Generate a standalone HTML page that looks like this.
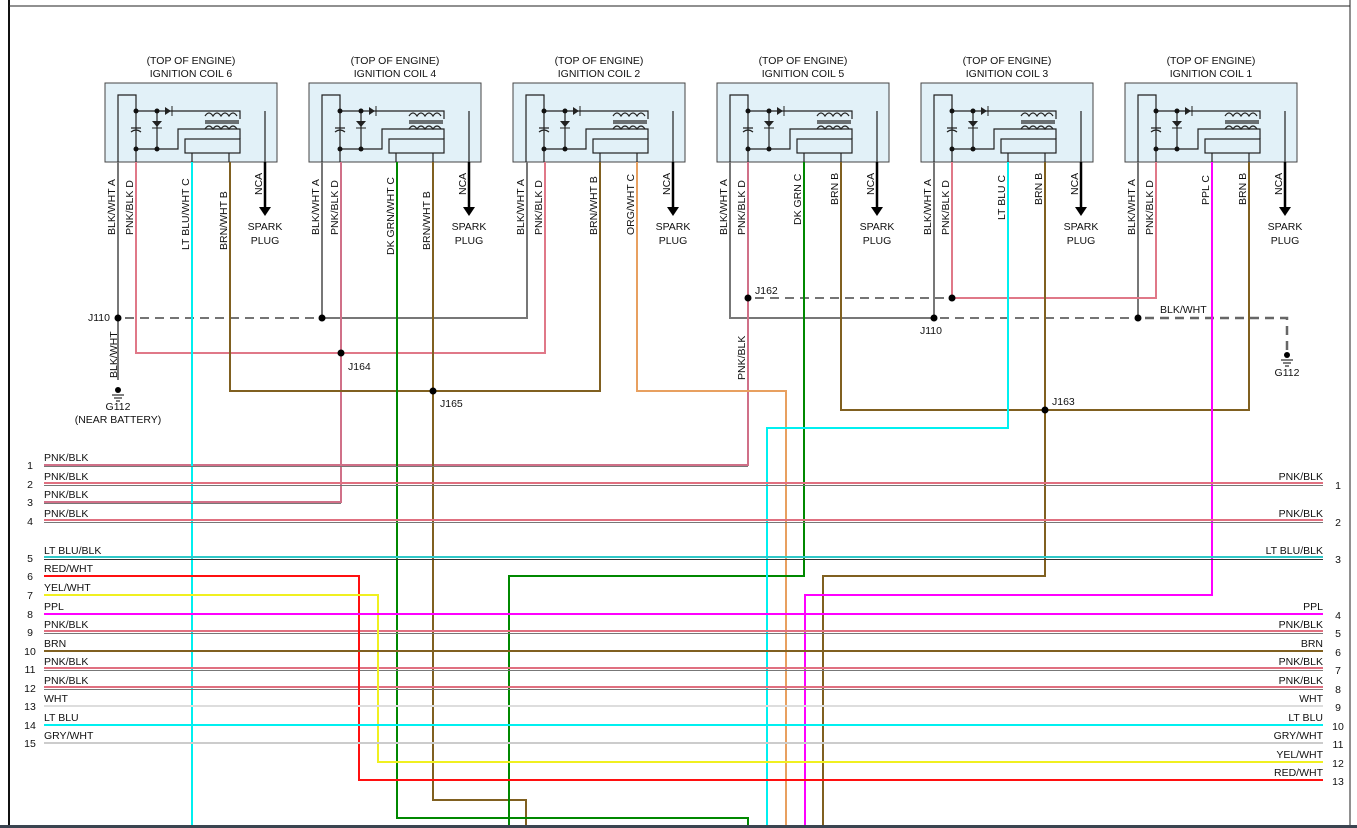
<!DOCTYPE html>
<html><head><meta charset="utf-8"><style>
body{margin:0;background:#fff}
svg{display:block;font-family:"Liberation Sans",sans-serif}
text{font-size:10.5px;fill:#111}
</style></head><body>
<svg width="1357" height="828" viewBox="0 0 1357 828" xmlns="http://www.w3.org/2000/svg">
<defs>
<g id="coil">
<rect x="0" y="0" width="172" height="79" fill="#e2f1f8" stroke="#444" stroke-width="1"/>
<g stroke="#222" stroke-width="1.2" fill="none">
<path d="M13,79 V12 H31 V79"/>
<path d="M31,28 H100 M52,28 V66 M31,66 H73 V46 H135 V56"/>
<path d="M100,28 H135 V36"/>
<path d="M100,33 q4,-6 8,0 q4,-6 8,0 q4,-6 8,0 q4,-6 8,0" />
<path d="M100,46 q4,-6 8,0 q4,-6 8,0 q4,-6 8,0 q4,-6 8,0" />
<path d="M100,38 H134 M100,40 H134"/>
<rect x="80" y="56" width="55" height="14"/>
<path d="M87,70 V79 M124,70 V79"/>
<path d="M26,45 H36 M26,49 q5,-4 10,0"/>
<path d="M160,28 V79"/>
</g>
<polygon points="60,24 60,32 66,28" fill="#222"/><path d="M67,23 V33" stroke="#222"/>
<polygon points="47,38 57,38 52,44" fill="#222"/><path d="M47,45 H57" stroke="#222"/>
<g fill="#111"><circle cx="31" cy="28" r="2.5"/><circle cx="52" cy="28" r="2.5"/><circle cx="31" cy="66" r="2.5"/><circle cx="52" cy="66" r="2.5"/></g>
<path d="M160,79 V125" stroke="#000" stroke-width="2.5"/>
<polygon points="154,124 166,124 160,133" fill="#000"/>
<text x="160" y="147" text-anchor="middle">SPARK</text>
<text x="160" y="161" text-anchor="middle">PLUG</text>
<text transform="translate(157,112) rotate(-90)">NCA</text>
</g>
</defs>

<line x1="9" y1="0" x2="9" y2="828" stroke="#111" stroke-width="2"/>
<line x1="1350" y1="0" x2="1350" y2="828" stroke="#222"/>
<line x1="9" y1="6" x2="1350" y2="6" stroke="#222"/>

<g transform="translate(105,83)"><use href="#coil"/></g>
<g transform="translate(309,83)"><use href="#coil"/></g>
<g transform="translate(513,83)"><use href="#coil"/></g>
<g transform="translate(717,83)"><use href="#coil"/></g>
<g transform="translate(921,83)"><use href="#coil"/></g>
<g transform="translate(1125,83)"><use href="#coil"/></g>

<g text-anchor="middle">
<text x="191" y="64">(TOP OF ENGINE)</text><text x="191" y="77">IGNITION COIL 6</text>
<text x="395" y="64">(TOP OF ENGINE)</text><text x="395" y="77">IGNITION COIL 4</text>
<text x="599" y="64">(TOP OF ENGINE)</text><text x="599" y="77">IGNITION COIL 2</text>
<text x="803" y="64">(TOP OF ENGINE)</text><text x="803" y="77">IGNITION COIL 5</text>
<text x="1007" y="64">(TOP OF ENGINE)</text><text x="1007" y="77">IGNITION COIL 3</text>
<text x="1211" y="64">(TOP OF ENGINE)</text><text x="1211" y="77">IGNITION COIL 1</text>
</g>

<g>
<text transform="translate(118,235) rotate(-90)" dy="-3">BLK/WHT  A</text>
<text transform="translate(136,235) rotate(-90)" dy="-3">PNK/BLK  D</text>
<text transform="translate(192,250) rotate(-90)" dy="-3">LT BLU/WHT  C</text>
<text transform="translate(230,250) rotate(-90)" dy="-3">BRN/WHT  B</text>
<text transform="translate(322,235) rotate(-90)" dy="-3">BLK/WHT  A</text>
<text transform="translate(341,235) rotate(-90)" dy="-3">PNK/BLK  D</text>
<text transform="translate(397,255) rotate(-90)" dy="-3">DK GRN/WHT  C</text>
<text transform="translate(433,250) rotate(-90)" dy="-3">BRN/WHT  B</text>
<text transform="translate(527,235) rotate(-90)" dy="-3">BLK/WHT  A</text>
<text transform="translate(545,235) rotate(-90)" dy="-3">PNK/BLK  D</text>
<text transform="translate(600,235) rotate(-90)" dy="-3">BRN/WHT  B</text>
<text transform="translate(637,235) rotate(-90)" dy="-3">ORG/WHT  C</text>
<text transform="translate(730,235) rotate(-90)" dy="-3">BLK/WHT  A</text>
<text transform="translate(748,235) rotate(-90)" dy="-3">PNK/BLK  D</text>
<text transform="translate(804,225) rotate(-90)" dy="-3">DK GRN  C</text>
<text transform="translate(841,205) rotate(-90)" dy="-3">BRN  B</text>
<text transform="translate(934,235) rotate(-90)" dy="-3">BLK/WHT  A</text>
<text transform="translate(952,235) rotate(-90)" dy="-3">PNK/BLK  D</text>
<text transform="translate(1008,220) rotate(-90)" dy="-3">LT BLU  C</text>
<text transform="translate(1045,205) rotate(-90)" dy="-3">BRN  B</text>
<text transform="translate(1138,235) rotate(-90)" dy="-3">BLK/WHT  A</text>
<text transform="translate(1156,235) rotate(-90)" dy="-3">PNK/BLK  D</text>
<text transform="translate(1212,205) rotate(-90)" dy="-3">PPL  C</text>
<text transform="translate(1249,205) rotate(-90)" dy="-3">BRN  B</text>
</g>

<g fill="none" stroke-width="2">
<path d="M118,162 V380" stroke="#777"/>
<path d="M322,162 V318 H527 V162" stroke="#777"/>
<path d="M730,162 V318 H934 V162" stroke="#777"/>
<path d="M1138,162 V318" stroke="#777"/>
<path d="M125,318 H318" stroke="#222" stroke-width="1.3" stroke-dasharray="9,6"/>
<path d="M940,318 H1135" stroke="#222" stroke-width="1.3" stroke-dasharray="9,6"/>
<path d="M1145,318 H1287 V352" stroke="#666" stroke-width="2.5" stroke-dasharray="9,6"/>
<path d="M136,162 V353 H545 V162" stroke="#e07888"/>
<path d="M341,162 V502 H44" stroke="#d07088"/>
<path d="M748,162 V465 H44" stroke="#d07088"/>
<path d="M755,298 H948" stroke="#222" stroke-width="1.3" stroke-dasharray="9,6"/>
<path d="M952,162 V298 H1156 V162" stroke="#e07888"/>
<path d="M230,162 V391 H600 V162" stroke="#806020"/>
<path d="M433,162 V800 H526 V828" stroke="#806020"/>
<path d="M841,162 V410 H1249 V162" stroke="#806020"/>
<path d="M1045,162 V576 H823 V828" stroke="#806020"/>
<path d="M192,162 V828" stroke="#00f0f0"/>
<path d="M397,162 V818 H748 V828" stroke="#008800"/>
<path d="M637,162 V391 H786 V828" stroke="#e8a060"/>
<path d="M804,162 V576 H509 V828" stroke="#008800"/>
<path d="M1008,162 V428 H767 V828" stroke="#00f0f0"/>
<path d="M1212,162 V595 H805 V828" stroke="#ff00ff"/>
<!-- dark stripes for two-tone -->
<g stroke="#777" stroke-width="1">
<path d="M44,466.5 H748 M44,485.5 H1323 M44,503.5 H341 M44,522.5 H1323 M44,633.5 H1323 M44,670.5 H1323 M44,689.5 H1323"/>
<path d="M44,559.5 H1323" stroke="#333"/>
</g>
<g stroke-width="2">
<path d="M44,483 H1323" stroke="#e07080"/>
<path d="M44,520 H1323" stroke="#e07080"/>
<path d="M44,557 H1323" stroke="#30c8c8"/>
<path d="M44,631 H1323" stroke="#e07080"/>
<path d="M44,668 H1323" stroke="#e07080"/>
<path d="M44,687 H1323" stroke="#e07080"/>
</g>
<path d="M44,576 H359 V780 H1323" stroke="#ff1010"/>
<path d="M44,595 H378 V762 H1323" stroke="#f0f020"/>
<path d="M44,614 H1323" stroke="#ff00ff"/>
<path d="M44,651 H1323" stroke="#806020"/>
<path d="M44,706 H1323" stroke="#dddddd"/>
<path d="M44,725 H1323" stroke="#00f0f0"/>
<path d="M44,743 H1323" stroke="#cccccc"/>
</g>

<g fill="#000">
<circle cx="118" cy="318" r="3.5"/><circle cx="322" cy="318" r="3.5"/>
<circle cx="341" cy="353" r="3.5"/><circle cx="433" cy="391" r="3.5"/>
<circle cx="748" cy="298" r="3.5"/><circle cx="952" cy="298" r="3.5"/>
<circle cx="934" cy="318" r="3.5"/><circle cx="1138" cy="318" r="3.5"/>
<circle cx="1045" cy="410" r="3.5"/>
<circle cx="118" cy="390" r="3"/><circle cx="1287" cy="355" r="3"/>
</g>
<g stroke="#000" stroke-width="1">
<path d="M112,395 H124 M114,398 H122 M116,401 H120"/>
<path d="M1281,360 H1293 M1283,363 H1291 M1285,366 H1289"/>
</g>
<text x="88" y="321">J110</text>
<text x="348" y="370">J164</text>
<text x="440" y="407">J165</text>
<text x="755" y="294">J162</text>
<text x="920" y="334">J110</text>
<text x="1052" y="405">J163</text>
<text x="1160" y="313">BLK/WHT</text>
<text x="118" y="410" text-anchor="middle">G112</text>
<text x="118" y="423" text-anchor="middle">(NEAR BATTERY)</text>
<text x="1287" y="376" text-anchor="middle">G112</text>
<text transform="translate(117,378) rotate(-90)">BLK/WHT</text>
<text transform="translate(745,380) rotate(-90)">PNK/BLK</text>

<g>
<text x="44" y="461">PNK/BLK</text><text x="44" y="480">PNK/BLK</text><text x="44" y="498">PNK/BLK</text><text x="44" y="517">PNK/BLK</text>
<text x="44" y="554">LT BLU/BLK</text><text x="44" y="572">RED/WHT</text><text x="44" y="591">YEL/WHT</text><text x="44" y="610">PPL</text>
<text x="44" y="628">PNK/BLK</text><text x="44" y="647">BRN</text><text x="44" y="665">PNK/BLK</text><text x="44" y="684">PNK/BLK</text>
<text x="44" y="702">WHT</text><text x="44" y="721">LT BLU</text><text x="44" y="739">GRY/WHT</text>
</g>
<g text-anchor="middle">
<text x="30" y="469">1</text><text x="30" y="488">2</text><text x="30" y="506">3</text><text x="30" y="525">4</text>
<text x="30" y="562">5</text><text x="30" y="580">6</text><text x="30" y="599">7</text><text x="30" y="618">8</text>
<text x="30" y="636">9</text><text x="30" y="655">10</text><text x="30" y="673">11</text><text x="30" y="692">12</text>
<text x="30" y="710">13</text><text x="30" y="729">14</text><text x="30" y="747">15</text>
</g>
<g text-anchor="end">
<text x="1323" y="480">PNK/BLK</text><text x="1323" y="517">PNK/BLK</text><text x="1323" y="554">LT BLU/BLK</text>
<text x="1323" y="610">PPL</text><text x="1323" y="628">PNK/BLK</text><text x="1323" y="647">BRN</text>
<text x="1323" y="665">PNK/BLK</text><text x="1323" y="684">PNK/BLK</text><text x="1323" y="702">WHT</text>
<text x="1323" y="721">LT BLU</text><text x="1323" y="739">GRY/WHT</text><text x="1323" y="758">YEL/WHT</text><text x="1323" y="776">RED/WHT</text>
</g>
<g text-anchor="middle">
<text x="1338" y="489">1</text><text x="1338" y="526">2</text><text x="1338" y="563">3</text>
<text x="1338" y="619">4</text><text x="1338" y="637">5</text><text x="1338" y="656">6</text>
<text x="1338" y="674">7</text><text x="1338" y="693">8</text><text x="1338" y="711">9</text>
<text x="1338" y="730">10</text><text x="1338" y="748">11</text><text x="1338" y="767">12</text><text x="1338" y="785">13</text>
</g>
<rect x="0" y="825" width="1357" height="3" fill="#3a4450"/>
</svg>
</body></html>
